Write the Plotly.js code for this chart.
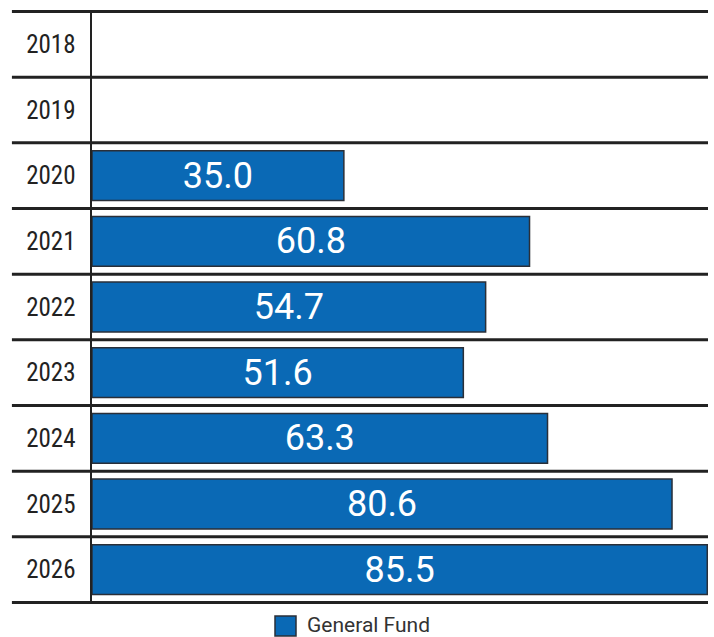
<!DOCTYPE html>
<html>
<head>
<meta charset="utf-8">
<script src="https://cdn.plot.ly/plotly-3.0.1.min.js"></script>
<style>html,body{margin:0;padding:0;background:#fff;}#chart{width:714px;height:637px;}</style>
</head>
<body>
<div id="chart"></div>
<script>
const years = ['2018','2019','2020','2021','2022','2023','2024','2025','2026'];
const generalFund = [null, null, 35.0, 60.8, 54.7, 51.6, 63.3, 80.6, 85.5];
const seriesName = 'General Fund';

const labels = generalFund.map(v => v === null ? '' : v.toFixed(1));

const barColor = '#0a69b5';
const barEdge = '#2a2f38';

const shapes = [];
for (let i = 0; i <= years.length; i++) {
  shapes.push({
    type: 'line', xref: 'paper', yref: 'y',
    x0: -0.13, x1: 1.0, y0: i - 0.5, y1: i - 0.5,
    line: {color: '#222222', width: 3},
    layer: 'above'
  });
}
// legend swatch (drawn manually for a larger square)
shapes.push({
  type: 'rect', xref: 'paper', yref: 'paper',
  x0: (275 - 92) / 616, x1: (296 - 92) / 616,
  y0: -(616 - 604) / 594, y1: -(636 - 604) / 594,
  fillcolor: barColor, line: {color: barEdge, width: 1.5}
});

const trace = {
  type: 'bar',
  orientation: 'h',
  y: years,
  x: generalFund,
  name: seriesName,
  text: labels,
  texttemplate: '%{text}',
  textposition: 'inside',
  insidetextanchor: 'middle',
  textangle: 0,
  constraintext: 'none',
  textfont: {family: 'Roboto, Arial, sans-serif', size: 36, color: '#ffffff'},
  marker: {color: barColor, line: {color: barEdge, width: 1.5}},
  width: 0.76,
  hoverinfo: 'none',
  showlegend: false
};

const layout = {
  width: 714, height: 637,
  margin: {l: 92, r: 6, t: 10, b: 33},
  paper_bgcolor: '#ffffff',
  plot_bgcolor: '#ffffff',
  showlegend: false,
  xaxis: {
    range: [0, 85.6], showgrid: false, zeroline: false, showticklabels: false,
    showline: false, ticks: ''
  },
  yaxis: {
    type: 'category', categoryorder: 'array', categoryarray: years,
    autorange: 'reversed', showgrid: false, zeroline: false,
    showline: true, linecolor: '#222222', linewidth: 2.5,
    ticks: '', ticklabelstandoff: 9,
    tickfont: {family: '"Liberation Sans Narrow", "Roboto Condensed", Roboto, sans-serif', size: 25, color: '#222222'}
  },
  annotations: [{
    xref: 'paper', yref: 'paper',
    x: (305 - 92) / 616, y: -(625 - 604) / 594,
    xanchor: 'left', yanchor: 'middle', showarrow: false,
    text: seriesName,
    font: {family: 'Roboto, Arial, sans-serif', size: 21, color: '#333333'}
  }],
  shapes: shapes
};

Plotly.newPlot('chart', [trace], layout, {displayModeBar: false, staticPlot: true});
</script>
</body>
</html>
